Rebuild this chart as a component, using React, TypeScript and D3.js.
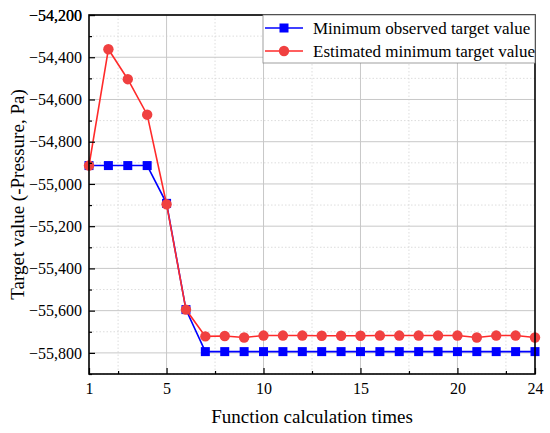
import { useEffect, useRef } from 'react';
import * as d3 from 'd3';

const WIDTH = 550;
const HEIGHT = 433;
const MARGIN = { top: 15, right: 15, bottom: 59, left: 89 };

const iterations = d3.range(1, 25);
const observedMin = [
  -54913, -54913, -54913, -54913, -55092, -55595, -55794, -55794, -55794, -55794, -55794, -55794,
  -55794, -55794, -55794, -55794, -55794, -55794, -55794, -55794, -55794, -55794, -55794, -55794,
];
const estimatedMin = [
  -54913, -54362, -54504, -54672, -55096, -55595, -55722, -55720, -55727, -55718, -55718, -55718,
  -55719, -55719, -55719, -55718, -55718, -55718, -55718, -55718, -55727, -55718, -55718, -55727,
];
const xTickLabels = [1, 5, 10, 15, 20, 24];
const xMajorGrid = [5, 10, 15, 20];
const xMinor = [2.5, 7.5, 12.5, 17.5, 22.5];
const yTicks = d3.range(-55800, -54199, 200);
const yMinor = d3.range(-55900, -54199, 200);

const FONT = '"Liberation Serif", "Times New Roman", serif';

export default function App() {
  const svgRef = useRef<SVGSVGElement>(null);

  useEffect(() => {
    if (!svgRef.current) return;
    const svg = d3.select(svgRef.current);
    svg.selectAll('*').remove();

    const iw = WIDTH - MARGIN.left - MARGIN.right;
    const ih = HEIGHT - MARGIN.top - MARGIN.bottom;
    const x = d3.scaleLinear().domain([1, 24]).range([0, iw]);
    const y = d3.scaleLinear().domain([-55900, -54200]).range([ih, 0]);

    const g = svg.append('g').attr('transform', `translate(${MARGIN.left},${MARGIN.top})`);

    // grid
    const grid = g.append('g');
    grid.selectAll('line.xminor').data(xMinor).join('line')
      .attr('x1', (d) => x(d)).attr('x2', (d) => x(d)).attr('y1', 0).attr('y2', ih)
      .attr('stroke', '#d4d4d4').attr('stroke-width', 0.8).attr('stroke-dasharray', '1.5,2');
    grid.selectAll('line.yminor').data(yMinor).join('line')
      .attr('y1', (d) => y(d)).attr('y2', (d) => y(d)).attr('x1', 0).attr('x2', iw)
      .attr('stroke', '#d4d4d4').attr('stroke-width', 0.8).attr('stroke-dasharray', '1.5,2');
    grid.selectAll('line.xmajor').data(xMajorGrid).join('line')
      .attr('x1', (d) => x(d)).attr('x2', (d) => x(d)).attr('y1', 0).attr('y2', ih)
      .attr('stroke', '#c8c8c8').attr('stroke-width', 1);
    grid.selectAll('line.ymajor').data(yTicks).join('line')
      .attr('y1', (d) => y(d)).attr('y2', (d) => y(d)).attr('x1', 0).attr('x2', iw)
      .attr('stroke', '#c8c8c8').attr('stroke-width', 1);

    // series
    const line = d3.line<number>().x((_, i) => x(iterations[i])).y((d) => y(d));
    const plot = g.append('g');

    plot.append('path').datum(observedMin).attr('d', line)
      .attr('fill', 'none').attr('stroke', '#0000ff').attr('stroke-width', 1.6);
    plot.selectAll('rect.obs').data(observedMin).join('rect')
      .attr('x', (_, i) => x(iterations[i]) - 4.5).attr('y', (d) => y(d) - 4.5)
      .attr('width', 9).attr('height', 9).attr('fill', '#0000ff');

    plot.append('path').datum(estimatedMin).attr('d', line)
      .attr('fill', 'none').attr('stroke', '#ff2a2a').attr('stroke-width', 1.6);
    plot.selectAll('circle.est').data(estimatedMin).join('circle')
      .attr('cx', (_, i) => x(iterations[i])).attr('cy', (d) => y(d))
      .attr('r', 5.2).attr('fill', '#f04040');

    // axes (ticks inward)
    const xAxis = g.append('g').attr('transform', `translate(0,${ih})`)
      .call(d3.axisBottom(x).tickValues(xTickLabels).tickSize(-6).tickPadding(9).tickFormat(d3.format('d')));
    g.append('g').attr('transform', `translate(0,${ih})`)
      .call(d3.axisBottom(x).tickValues(xMinor).tickSize(-3).tickFormat(() => ''))
      .call((s) => s.select('.domain').remove());
    const fmt = (v: number) => d3.format(',')(v).replace('-', '−');
    const yAxis = g.append('g')
      .call(d3.axisLeft(y).tickValues(yTicks.concat([-54200])).tickSize(-6).tickPadding(7).tickFormat((d) => fmt(+d)));
    g.append('g')
      .call(d3.axisLeft(y).tickValues(yMinor).tickSize(-3).tickFormat(() => ''))
      .call((s) => s.select('.domain').remove());

    [xAxis, yAxis].forEach((a) => {
      a.attr('font-family', FONT).attr('font-size', 16);
      a.selectAll('text').attr('font-family', FONT).attr('font-size', 16).attr('fill', '#000');
    });
    g.selectAll('.tick line').attr('stroke', '#000').attr('stroke-width', 1.2);
    g.selectAll('.domain').attr('stroke', 'none');

    // frame
    g.append('rect').attr('width', iw).attr('height', ih)
      .attr('fill', 'none').attr('stroke', '#000').attr('stroke-width', 1.6);

    // legend
    const lg = g.append('g').attr('transform', `translate(${iw - 272},0)`);
    lg.append('rect').attr('width', 272).attr('height', 48)
      .attr('fill', '#fff').attr('stroke', '#888').attr('stroke-width', 0.8);
    const entries = [
      { label: 'Minimum observed target value', color: '#0000ff', shape: 'square' },
      { label: 'Estimated minimum target value', color: '#ff2a2a', shape: 'circle' },
    ];
    entries.forEach((e, i) => {
      const row = lg.append('g').attr('transform', `translate(0,${13 + i * 23})`);
      row.append('line').attr('x1', 2).attr('x2', 40).attr('stroke', e.color).attr('stroke-width', 1.6);
      if (e.shape === 'square') {
        row.append('rect').attr('x', 16.5).attr('y', -4.5).attr('width', 9).attr('height', 9).attr('fill', e.color);
      } else {
        row.append('circle').attr('cx', 21).attr('r', 5.2).attr('fill', '#f04040');
      }
      row.append('text').attr('x', 50).attr('dy', '0.35em')
        .attr('font-family', FONT).attr('font-size', 17).attr('fill', '#000').text(e.label);
    });

    // titles
    svg.append('text')
      .attr('x', MARGIN.left + iw / 2).attr('y', HEIGHT - 10)
      .attr('text-anchor', 'middle').attr('font-family', FONT).attr('font-size', 19)
      .text('Function calculation times');
    svg.append('text')
      .attr('transform', `translate(24,${MARGIN.top + ih / 2}) rotate(-90)`)
      .attr('text-anchor', 'middle').attr('font-family', FONT).attr('font-size', 19)
      .text('Target value (-Pressure, Pa)');
  }, []);

  return (
    <svg ref={svgRef} width={WIDTH} height={HEIGHT}
      style={{ display: 'block', position: 'absolute', left: 0, top: 0, background: '#fff' }} />
  );
}
